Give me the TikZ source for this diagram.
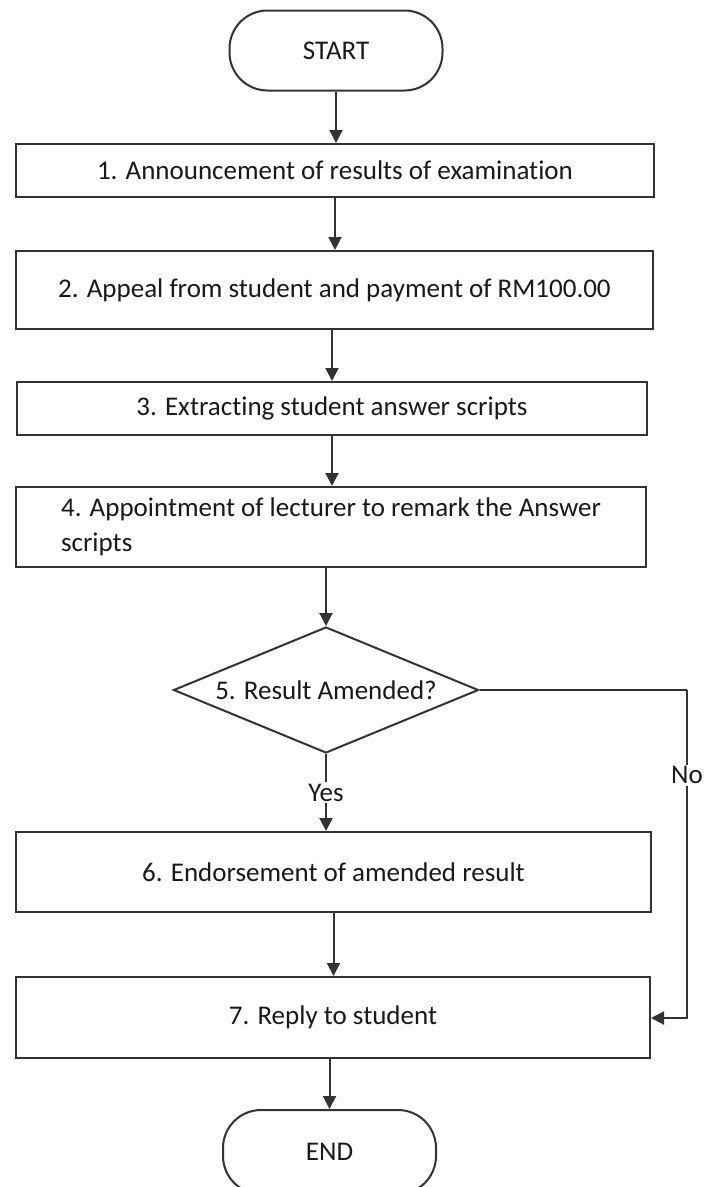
\documentclass[tikz,border=0pt]{standalone}
\usepackage{fontspec}
\setmainfont{Carlito}[Ligatures=NoCommon]
\usetikzlibrary{arrows.meta,shapes.geometric}
\begin{document}
\begin{tikzpicture}[x=1pt,y=-1pt,
  every node/.style={font=\fontsize{27}{35}\selectfont, text=black!90},
  conn/.style={draw=black!80, line width=2pt},
  arr/.style={conn, -{Triangle[width=13pt,length=13pt]}},
  procbox/.style={draw=black!80, line width=2pt, rectangle, inner sep=0pt},
  term/.style={draw=black!80, line width=2pt, rectangle, rounded corners=38pt, inner sep=0pt, minimum width=213pt, minimum height=80pt},
  decide/.style={draw=black!80, line width=2pt, diamond, aspect=2.42, inner sep=0pt, minimum width=305pt, minimum height=126pt},
  lbl/.style={fill=white, inner sep=2pt}]
\clip (0,0) rectangle (704,1187);
\useasboundingbox (0,0) rectangle (704,1187);
\fill[white] (0,0) rectangle (704,1187);

\node[term] (start) at (336,50.5) {START};
\node[procbox, minimum width=638pt, minimum height=53pt] (b1) at (335,170.5) {1. Announcement of results of examination};
\node[procbox, minimum width=637pt, minimum height=78pt] (b2) at (334.5,290) {2. Appeal from student and payment of RM100.00};
\node[procbox, minimum width=630pt, minimum height=53pt] (b3) at (332,408.5) {3. Extracting student answer scripts};
\node[procbox, minimum width=630pt, minimum height=80pt, align=left] (b4) at (331,527) {4. Appointment of lecturer to remark the Answer\\scripts};
\node[decide] (d5) at (326,690) {5. Result Amended?};
\node[procbox, minimum width=635pt, minimum height=80pt] (b6) at (333.5,872) {6. Endorsement of amended result};
\node[procbox, minimum width=634pt, minimum height=81pt] (b7) at (333,1017.5) {7. Reply to student};
\node[term, minimum height=84pt] (end) at (329.5,1152) {END};

\coordinate (ncorner) at (687,690);
\coordinate (nin) at (687,1018);

\draw[arr] (start.south) -- (start.south |- b1.north);
\draw[arr] (b1.south) -- (b1.south |- b2.north);
\draw[arr] (b2.south -| b3.north) -- (b3.north);
\draw[arr] (b3.south) -- (b3.south |- b4.north);
\draw[arr] (d5.north |- b4.south) -- (d5.north);
\draw[arr] (d5.south) -- node[lbl, pos=0.5] {Yes} (d5.south |- b6.north);
\draw[arr] (b6.south) -- (b6.south |- b7.north);
\draw[arr] (b7.south -| end.north) -- (end.north);
\draw[conn] (d5.east) -- (ncorner);
\draw[arr] (ncorner) -- node[lbl, pos=0.26] {No} (nin) -- (nin -| b7.east);
\end{tikzpicture}
\end{document}
